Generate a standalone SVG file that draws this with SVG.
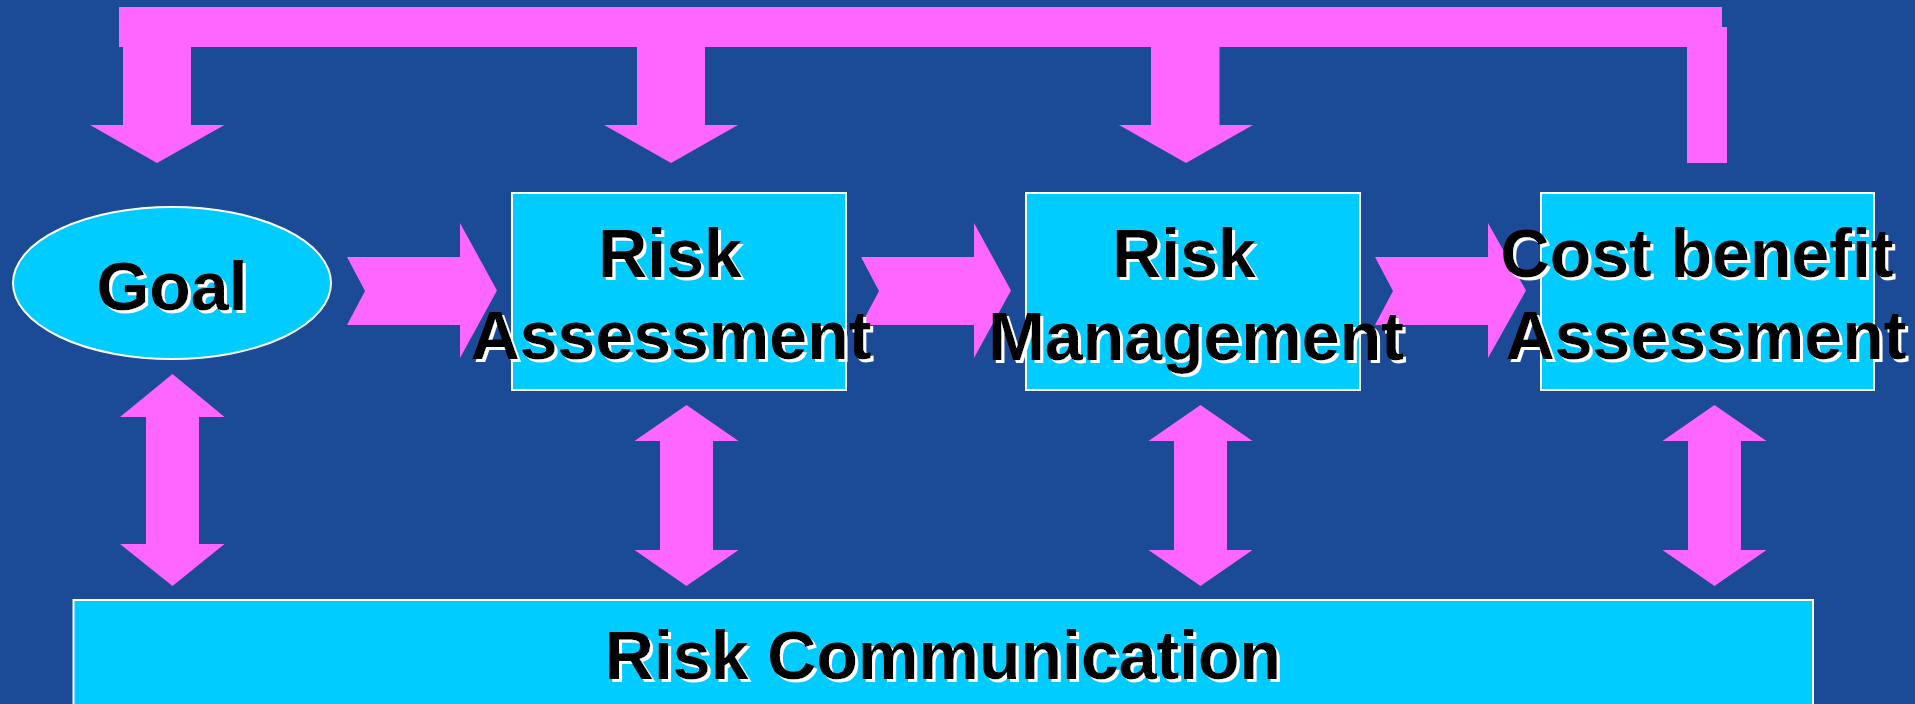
<svg xmlns="http://www.w3.org/2000/svg" width="1915" height="704" viewBox="0 0 1915 704">
<style>
.bg{fill:#1B4B96}
.pk{fill:#FF66FF}
.nd{fill:#00CCFF;stroke:#FFFFFF;stroke-width:2}
.tx{font-family:"Liberation Sans",Arial,sans-serif;font-weight:bold;font-size:68px;fill:#000;text-anchor:middle;filter:url(#sh)}
</style>
<defs>
<filter id="sh" x="-10%" y="-20%" width="120%" height="140%">
<feFlood flood-color="#FFFFFF" result="f"/>
<feComposite in="f" in2="SourceAlpha" operator="in" result="s"/>
<feOffset in="s" dx="3" dy="3" result="o"/>
<feMerge><feMergeNode in="o"/><feMergeNode in="SourceGraphic"/></feMerge>
</filter>
</defs>
<rect class="bg" x="0" y="0" width="1915" height="704"/>
<g id="connectors">
<polygon class="pk" points="119,7 1722,7 1722,27 1727,27 1727,163 1687,163 1687,47 119,47"/>
<polygon class="pk" points="123,46 191,46 191,125 224.5,125 157,163 90,125 123,125"/>
<polygon class="pk" points="637,46 705,46 705,125 738,125 671,163 604,125 637,125"/>
<polygon class="pk" points="1151,46 1219.5,46 1219.5,125 1253,125 1186,163 1119,125 1151,125"/>
<polygon class="pk" points="347,257 460,257 460,223 497,290.5 460,358 460,325 347,325 365,291"/>
<polygon class="pk" points="861,257 974,257 974,223 1011,290.5 974,358 974,325 861,325 879,291"/>
<polygon class="pk" points="1375,257 1488,257 1488,223 1526,290.5 1488,358 1488,325 1375,325 1393,291"/>
<polygon class="pk" points="172.5,374 224.5,417 199,417 199,544 224.5,544 172.5,586 120,544 146,544 146,417 120,417"/>
<polygon class="pk" points="686.5,405 738.5,441 713,441 713,550 738.5,550 686.5,586 634.5,550 660,550 660,441 634.5,441"/>
<polygon class="pk" points="1200.5,405 1252.5,441 1227,441 1227,550 1252.5,550 1200.5,586 1148.5,550 1174,550 1174,441 1148.5,441"/>
<polygon class="pk" points="1714.5,405 1766.5,441 1741,441 1741,550 1766.5,550 1714.5,586 1662.5,550 1688,550 1688,441 1662.5,441"/>
</g>
<g id="goal">
<ellipse class="nd" cx="172" cy="283" rx="159" ry="76"/>
<text class="tx" x="172" y="310">Goal</text>
</g>
<g id="risk-assessment">
<rect class="nd" x="512" y="193" width="334" height="197"/>
<text class="tx" x="670" y="277">Risk</text>
<text class="tx" x="671" y="359">Assessment</text>
</g>
<g id="risk-management">
<rect class="nd" x="1026" y="193" width="334" height="197"/>
<text class="tx" x="1184" y="277">Risk</text>
<text class="tx" x="1196" y="360">Management</text>
</g>
<g id="cost-benefit">
<rect class="nd" x="1541" y="193" width="333" height="197"/>
<text class="tx" x="1697" y="277">Cost benefit</text>
<text class="tx" x="1706" y="359">Assessment</text>
</g>
<g id="risk-communication">
<rect class="nd" x="73.5" y="600" width="1739.5" height="120"/>
<text class="tx" x="943" y="679">Risk Communication</text>
</g>
</svg>
